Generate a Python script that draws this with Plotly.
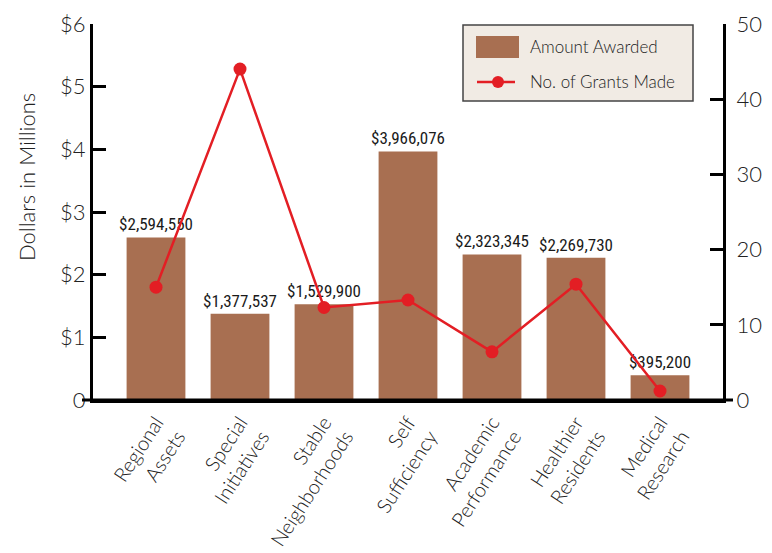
import plotly.graph_objects as go

categories = ["Regional<br>Assets", "Special<br>Initiatives", "Stable<br>Neighborhoods",
              "Self<br>Sufficiency", "Academic<br>Performance", "Healthier<br>Residents",
              "Medical<br>Research"]
amounts = [2594550, 1377537, 1529900, 3966076, 2323345, 2269730, 395200]
grants = [15, 44, 12.3, 13.3, 6.4, 15.4, 1.2]
left_ticks = [0, 1, 2, 3, 4, 5, 6]
left_labels = ["0", "$1", "$2", "$3", "$4", "$5", "$6"]
right_ticks = [0, 10, 20, 30, 40, 50]
series_names = ["Amount Awarded", "No. of Grants Made"]

FONT = "Lato"
NARROW = "Liberation Sans Narrow, Roboto Condensed, DejaVu Sans Condensed"
BAR_C = "#A86F51"
LINE_C = "#E31E24"

W, H = 772, 553
L, R, T, B = 93, 49, 24, 153
PW, PH = W - L - R, H - T - B


def px(x):
    return (x - L) / PW


def py(y):
    return 1 - (y - T) / PH


fig = go.Figure()
fig.add_trace(go.Bar(
    x=categories, y=[a / 1e6 for a in amounts], name=series_names[0],
    marker=dict(color=BAR_C, line=dict(width=0)), width=0.7,
    text=[f"${a:,}" for a in amounts], textposition="outside",
    constraintext="none",
    textfont=dict(family=NARROW, size=17, color="#1a1a1a", weight=400),
    cliponaxis=False, yaxis="y", showlegend=False,
))
fig.add_trace(go.Scatter(
    x=categories, y=grants, name=series_names[1], mode="lines+markers",
    line=dict(color=LINE_C, width=2.5), marker=dict(color=LINE_C, size=13),
    yaxis="y2", cliponaxis=False, showlegend=False,
))

fig.update_layout(
    width=W, height=H, margin=dict(l=L, r=R, t=T, b=B, autoexpand=False),
    paper_bgcolor="white", plot_bgcolor="white",
    font=dict(family=FONT, color="#222", weight=300),
    xaxis=dict(range=[-0.75, 6.75], showline=True, linecolor="black", linewidth=3,
               tickangle=-57, tickfont=dict(size=20, family=FONT, weight=300), ticks="",
               showgrid=False, automargin=False),
    yaxis=dict(range=[0, 6], tickvals=left_ticks, ticktext=left_labels,
               showline=True, linecolor="black", linewidth=3,
               ticks="inside", ticklen=13, tickwidth=3, tickcolor="black",
               tickfont=dict(size=22, weight=300), showgrid=False, zeroline=False,
               automargin=False),
    yaxis2=dict(range=[0, 50], tickvals=right_ticks, overlaying="y", side="right",
                showline=True, linecolor="black", linewidth=3,
                ticks="inside", ticklen=13, tickwidth=3, tickcolor="black",
                tickfont=dict(size=22, weight=300), showgrid=False, zeroline=False,
                ticklabelstandoff=6, automargin=False),
    showlegend=False,
)

# baseline extension
fig.add_shape(type="line", xref="paper", yref="paper", x0=px(82), x1=px(733), y0=0, y1=0,
              line=dict(color="black", width=3))

# y-axis title
fig.add_annotation(text="Dollars in Millions", xref="paper", yref="paper",
                   x=px(26), y=py(177), textangle=-90, showarrow=False,
                   font=dict(size=22, family=FONT, color="#222", weight=300),
                   xanchor="center", yanchor="middle")

# custom legend
fig.add_shape(type="rect", xref="paper", yref="paper", x0=px(463), x1=px(693),
              y0=py(101), y1=py(25), fillcolor="#F1EBE4",
              line=dict(color="#444", width=1.5), layer="above")
fig.add_shape(type="rect", xref="paper", yref="paper", x0=px(476), x1=px(519),
              y0=py(58), y1=py(36), fillcolor=BAR_C, line=dict(width=0), layer="above")
fig.add_shape(type="line", xref="paper", yref="paper", x0=px(477), x1=px(515),
              y0=py(82), y1=py(82), line=dict(color=LINE_C, width=2.5), layer="above")
fig.add_shape(type="circle", xref="paper", yref="paper", x0=px(492), x1=px(504),
              y0=py(88), y1=py(76), fillcolor=LINE_C, line=dict(width=0), layer="above")
fig.add_annotation(text=series_names[0], xref="paper", yref="paper", x=px(528), y=py(46),
                   xanchor="left", yanchor="middle", showarrow=False,
                   font=dict(size=17, family=FONT, color="#222", weight=300))
fig.add_annotation(text=series_names[1], xref="paper", yref="paper", x=px(528), y=py(81),
                   xanchor="left", yanchor="middle", showarrow=False,
                   font=dict(size=17, family=FONT, color="#222", weight=300))

fig.write_html("out.html")
